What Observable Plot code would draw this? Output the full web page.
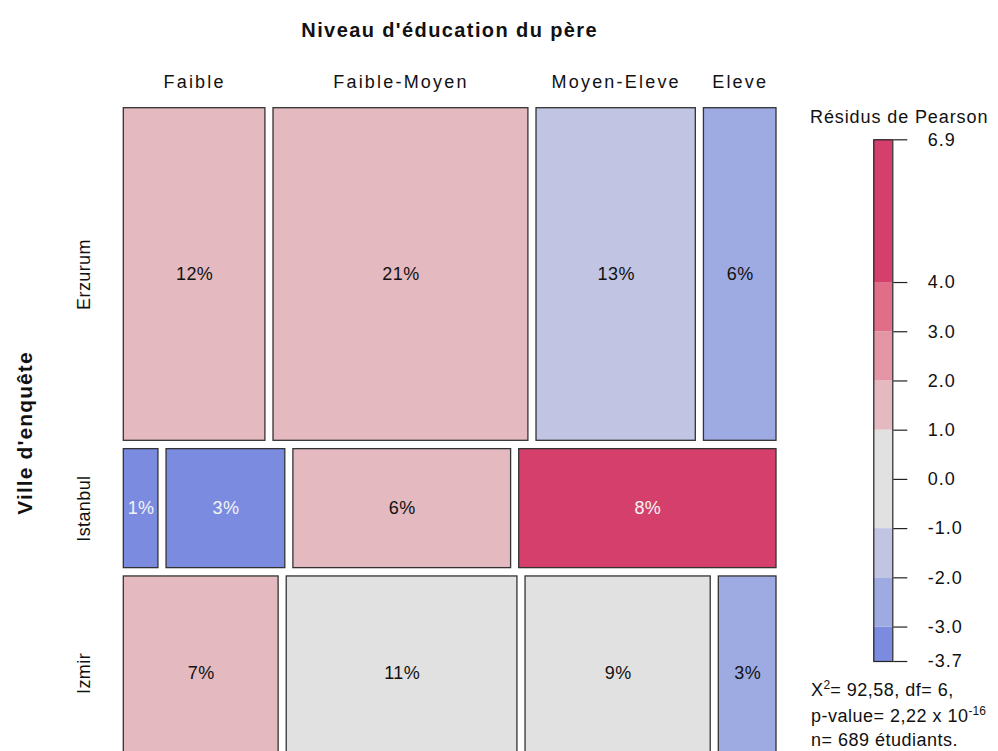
<!DOCTYPE html>
<html>
<head>
<meta charset="utf-8">
<script src="https://cdn.jsdelivr.net/npm/d3@7"></script>
<script src="https://cdn.jsdelivr.net/npm/@observablehq/plot@0.6"></script>
<style>
  body { margin: 0; background: #fff; }
  #wrap { position: relative; width: 998px; height: 751px; overflow: hidden; background: #fff;
          font-family: "Liberation Sans", Arial, Helvetica, sans-serif; color: #111; }
  .abs { position: absolute; white-space: nowrap; }
  #chart, #legend { position: absolute; top: 0; }
  #chart { left: 0; }
  #legend { left: 800px; }
  sup { font-size: 12px; vertical-align: 7px; line-height: 0; letter-spacing: 0; }
  .stat { font-size: 18px; letter-spacing: 0.5px; }
</style>
</head>
<body>
<div id="wrap">
  <div id="chart"></div>
  <div id="legend"></div>
  <div class="abs" style="left:449.7px; top:30px; transform:translate(-50%,-50%); font-weight:bold; font-size:20px; letter-spacing:1.4px;">Niveau d'éducation du père</div>
  <div class="abs" style="left:25px; top:433px; transform:translate(-50%,-50%) rotate(-90deg); font-weight:bold; font-size:21px; letter-spacing:1.1px;">Ville d'enquête</div>
  <div class="abs" style="left:810px; top:117px; transform:translateY(-50%); font-size:18px; letter-spacing:0.9px;">Résidus de Pearson</div>
  <div class="abs stat" style="left:811px; top:690px; transform:translateY(-50%);">X<sup>2</sup>= 92,58, df= 6,</div>
  <div class="abs stat" style="left:811px; top:716px; transform:translateY(-50%);">p-value= 2,22 x 10<sup>-16</sup></div>
  <div class="abs stat" style="left:811px; top:740px; transform:translateY(-50%);">n= 689 étudiants.</div>
</div>
<script>
// ---- Data ----
const villes = ["Erzurum", "Istanbul", "Izmir"];
const niveaux = ["Faible", "Faible-Moyen", "Moyen-Eleve", "Eleve"];
const countsErzurum = [80, 144, 90, 41];
const countsIstanbul = [7, 24, 44, 52];
const countsIzmir = [51, 76, 61, 19];
const residErzurum = [1.06, 1.63, -1.05, -2.2];
const residIstanbul = [-3.65, -3.13, 1.35, 6.9];
const residIzmir = [1.47, 0.31, 0.31, -2.52];
const nTotal = 689;
const legendBreaks = [-3.7, -3, -2, -1, 1, 2, 3, 4, 6.9];
const legendColors = ["#7a8be0", "#9eaae2", "#c1c5e3", "#e1e1e1", "#e4bac0", "#e496a6", "#e06e89", "#d4406b"];
const legendTicks = [6.9, 4, 3, 2, 1, 0, -1, -2, -3, -3.7];

// ---- Build mosaic tiles ----
const countsByVille = [countsErzurum, countsIstanbul, countsIzmir];
const residByVille = [residErzurum, residIstanbul, residIzmir];
const gap = 0.0129;
const cells = [];
const rows = [];
let yCum = 0;
villes.forEach((v, i) => {
  const counts = countsByVille[i];
  const rowTotal = d3.sum(counts);
  const h = rowTotal / nTotal;
  const y1 = yCum + i * gap;
  const y2 = y1 + h;
  rows.push({ville: v, y: (y1 + y2) / 2});
  let xCum = 0;
  counts.forEach((c, j) => {
    const w = c / rowTotal;
    const x1 = xCum + j * gap;
    cells.push({
      ville: v, niveau: niveaux[j], count: c, resid: residByVille[i][j],
      x1, x2: x1 + w, y1, y2,
      pct: Math.round(100 * c / nTotal) + "%"
    });
    xCum += w;
  });
  yCum += h;
});
const topCells = cells.filter(d => d.ville === villes[0]);

const colorScale = {type: "threshold", domain: legendBreaks.slice(1, -1), range: legendColors};
const font = "'Liberation Sans', Arial, Helvetica, sans-serif";

const chart = Plot.plot({
  width: 998, height: 751,
  marginLeft: 0, marginRight: 0, marginTop: 0, marginBottom: 0,
  style: {fontFamily: font, background: "transparent"},
  x: {domain: [0, 1 + 3 * gap], range: [123.3, 776], axis: null},
  y: {domain: [0, 1 + 2 * gap], range: [107.7, 769.9], axis: null},
  color: colorScale,
  marks: [
    Plot.rect(cells, {x1: "x1", x2: "x2", y1: "y1", y2: "y2", fill: "resid", stroke: "#333", strokeWidth: 1.3}),
    Plot.text(cells, {
      x: d => (d.x1 + d.x2) / 2, y: d => (d.y1 + d.y2) / 2, text: "pct",
      fontSize: 18, fill: d => (d.resid < -3 || d.resid > 4) ? "#f4f4f4" : "#111"
    }),
    Plot.text(topCells, {
      x: d => (d.x1 + d.x2) / 2, y: 0, dy: -26, text: "niveau",
      fontSize: 18, fill: "#111"
    }),
    Plot.text(rows, {
      x: 0, y: "y", dx: -40, text: "ville", rotate: -90, fontSize: 18, fill: "#111"
    })
  ]
});
chart.querySelectorAll("text").forEach(t => {
  const s = t.textContent;
  if (niveaux.includes(s)) t.style.letterSpacing = "2.2px";
  else if (villes.includes(s)) t.style.letterSpacing = "0.4px";
  else if (s.endsWith("%")) t.style.letterSpacing = "0.4px";
});
document.getElementById("chart").append(chart);

// ---- Legend ----
const bins = d3.range(legendBreaks.length - 1).map(k => ({
  lo: legendBreaks[k], hi: legendBreaks[k + 1], mid: (legendBreaks[k] + legendBreaks[k + 1]) / 2
}));
const legend = Plot.plot({
  width: 198, height: 751,
  marginLeft: 73.3, marginRight: 105.7, marginTop: 139.3, marginBottom: 90,
  style: {fontFamily: font, background: "transparent"},
  x: {domain: [0, 1], axis: null},
  y: {domain: [legendBreaks[0], legendBreaks[legendBreaks.length - 1]], axis: null},
  color: colorScale,
  marks: [
    Plot.rect(bins, {x1: 0, x2: 1, y1: "lo", y2: "hi", fill: "mid"}),
    Plot.frame({stroke: "#222", strokeWidth: 1.2}),
    Plot.axisY({
      anchor: "right", ticks: legendTicks, tickFormat: d => d.toFixed(1),
      tickSize: 14, tickPadding: 21, fontSize: 18, stroke: "#222", strokeWidth: 1.2,
      textAnchor: "start", fill: "#111"
    })
  ]
});
legend.querySelectorAll("text").forEach(t => t.style.letterSpacing = "1px");
document.getElementById("legend").append(legend);
</script>
</body>
</html>
